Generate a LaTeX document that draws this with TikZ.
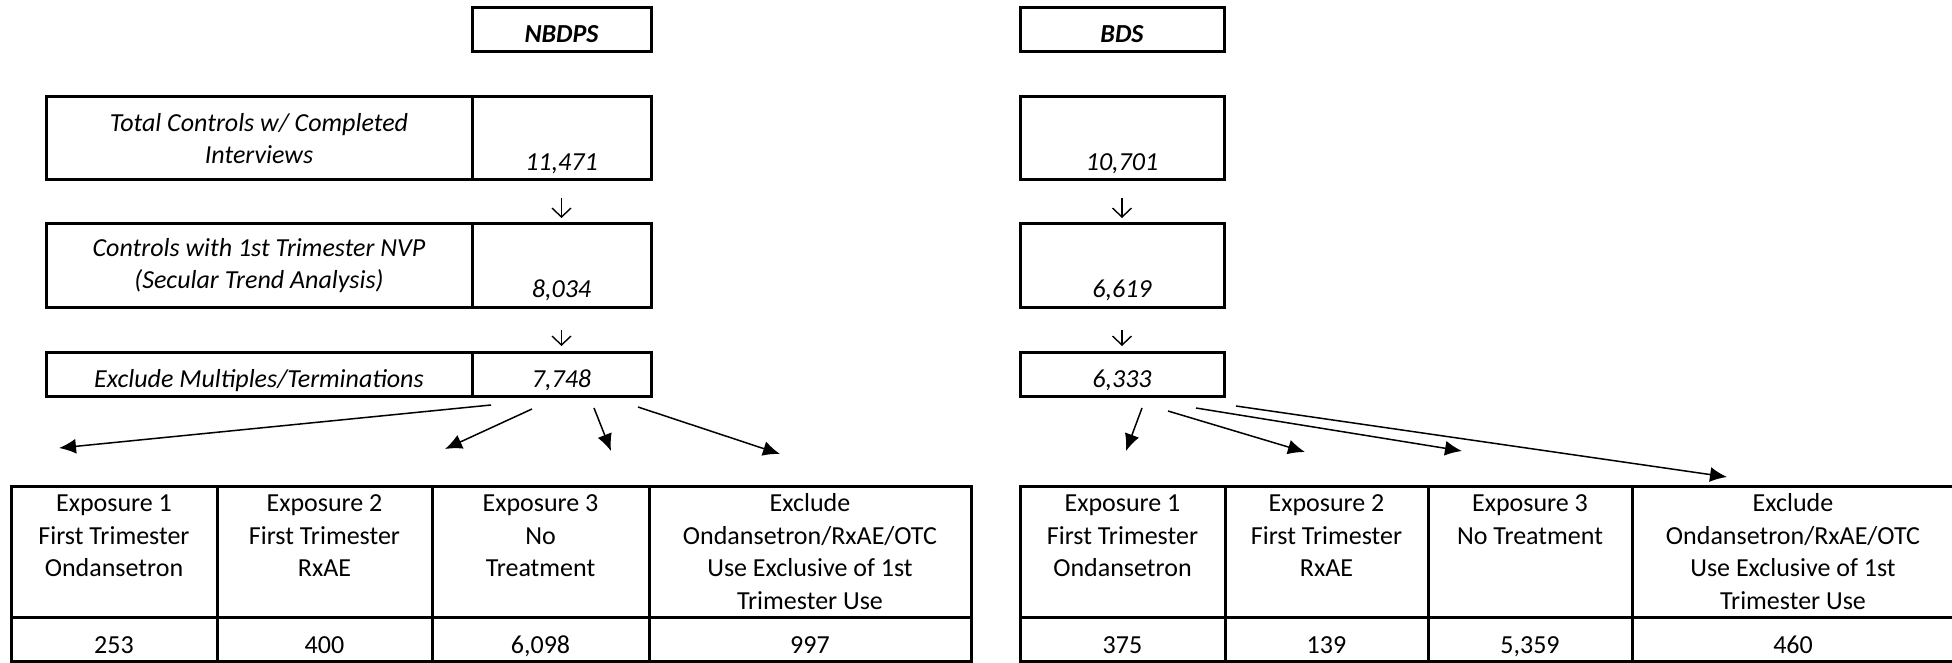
\documentclass[tikz,border=0pt]{standalone}
\usepackage{fontspec}
\setmainfont{Carlito}
\usetikzlibrary{arrows.meta}
\usetikzlibrary{positioning}
\newcommand{\cellfont}{\fontsize{26}{32.5}\selectfont}
\tikzset{%
	>={Latex[width=15pt,length=17pt]},
	% Specifications for style of nodes:
	base/.style = {rectangle, draw=black, line width=3pt,
				   inner sep=0pt, outer sep=0pt, align=center, font=\cellfont},
	title/.style = {base, minimum height=44pt, text height=26pt, text depth=0pt,
					font=\cellfont\bfseries\itshape},
	rowname/.style = {base, minimum width=426pt, font=\cellfont\itshape},
	tallcount/.style = {base, minimum height=83pt, text height=65pt, text depth=0pt,
						font=\cellfont\itshape},
	shortcount/.style = {base, minimum height=44pt, text height=26pt, text depth=0pt,
						 font=\cellfont\itshape},
	colhead/.style = {base, minimum height=131pt},
	colcount/.style = {base, minimum height=44pt, text height=28pt, text depth=0pt},
	headtext/.style = {align=center, inner sep=0pt, font=\cellfont},
	flow/.style = {->, line width=1.5pt},
	stepdown/.style = {-{Straight Barb[length=9pt,width=19pt]}, line width=1.4pt},
}
\begin{document}
\begin{tikzpicture}[x=1pt, y=-1pt]

	\useasboundingbox (0,0) rectangle (1952,663);

	% NBDPS counts

	\node (nbTitle)	[title, minimum width=179pt] at (561.5,30)	{NBDPS};
	\node (nbTotal)	[tallcount, minimum width=179pt, anchor=north] at (561.5,97)	{11,471};
	\node (nbTrend)	[tallcount, minimum width=179pt, below=44pt of nbTotal]	{8,034};
	\node (nbExcl)	[shortcount, minimum width=179pt, below=45pt of nbTrend]	{7,748};
	\node (totalName)	[rowname, minimum height=83pt, left=0pt of nbTotal]	{Total Controls w/ Completed\\Interviews};
	\node (trendName)	[rowname, minimum height=83pt, left=0pt of nbTrend]	{Controls with 1st Trimester NVP\\(Secular Trend Analysis)};
	\node (exclName)	[rowname, minimum height=44pt, text height=26pt, text depth=0pt, left=0pt of nbExcl]	{Exclude Multiples/Terminations};

	% BDS counts

	\node (bdsTitle)	[title, minimum width=204pt] at (1122,30)	{BDS};
	\node (bdsTotal)	[tallcount, minimum width=204pt, anchor=north] at (1122,97)	{10,701};
	\node (bdsTrend)	[tallcount, minimum width=204pt, below=44pt of bdsTotal]	{6,619};
	\node (bdsExcl)	[shortcount, minimum width=204pt, below=45pt of bdsTrend]	{6,333};

	% NBDPS exposure table

	\node (nbHead1)	[colhead, minimum width=206pt, anchor=north west] at (11,486)	{};
	\node (nbHead2)	[colhead, minimum width=215pt, right=0pt of nbHead1]	{};
	\node (nbHead3)	[colhead, minimum width=217pt, right=0pt of nbHead2]	{};
	\node (nbHead4)	[colhead, minimum width=322pt, right=0pt of nbHead3]	{};
	\node (nbText1)	[headtext, below=3pt of nbHead1.north]	{\strut Exposure 1\\First Trimester\\Ondansetron};
	\node (nbText2)	[headtext, below=3pt of nbHead2.north]	{\strut Exposure 2\\First Trimester\\RxAE};
	\node (nbText3)	[headtext, below=3pt of nbHead3.north]	{\strut Exposure 3\\No\\Treatment};
	\node (nbText4)	[headtext, below=3pt of nbHead4.north]	{\strut Exclude\\Ondansetron/RxAE/OTC\\Use Exclusive of 1st\\Trimester Use};
	\node (nbCount1)	[colcount, minimum width=206pt, below=0pt of nbHead1]	{253};
	\node (nbCount2)	[colcount, minimum width=215pt, below=0pt of nbHead2]	{400};
	\node (nbCount3)	[colcount, minimum width=217pt, below=0pt of nbHead3]	{6,098};
	\node (nbCount4)	[colcount, minimum width=322pt, below=0pt of nbHead4]	{997};

	% BDS exposure table

	\node (bdsHead1)	[colhead, minimum width=205pt, anchor=north west] at (1020,486)	{};
	\node (bdsHead2)	[colhead, minimum width=203pt, right=0pt of bdsHead1]	{};
	\node (bdsHead3)	[colhead, minimum width=204pt, right=0pt of bdsHead2]	{};
	\node (bdsHead4)	[colhead, minimum width=322pt, right=0pt of bdsHead3]	{};
	\node (bdsText1)	[headtext, below=3pt of bdsHead1.north]	{\strut Exposure 1\\First Trimester\\Ondansetron};
	\node (bdsText2)	[headtext, below=3pt of bdsHead2.north]	{\strut Exposure 2\\First Trimester\\RxAE};
	\node (bdsText3)	[headtext, below=3pt of bdsHead3.north]	{\strut Exposure 3\\No Treatment};
	\node (bdsText4)	[headtext, below=3pt of bdsHead4.north]	{\strut Exclude\\Ondansetron/RxAE/OTC\\Use Exclusive of 1st\\Trimester Use};
	\node (bdsCount1)	[colcount, minimum width=205pt, below=0pt of bdsHead1]	{375};
	\node (bdsCount2)	[colcount, minimum width=203pt, below=0pt of bdsHead2]	{139};
	\node (bdsCount3)	[colcount, minimum width=204pt, below=0pt of bdsHead3]	{5,359};
	\node (bdsCount4)	[colcount, minimum width=322pt, below=0pt of bdsHead4]	{460};

	% Free ends of the split arrows

	\coordinate (nbFrom1) at (491,405);	\coordinate (nbTo1) at (59,448);
	\coordinate (nbFrom2) at (532,409);	\coordinate (nbTo2) at (445,449);
	\coordinate (nbFrom3) at (594,408);	\coordinate (nbTo3) at (611,451);
	\coordinate (nbFrom4) at (638,407);	\coordinate (nbTo4) at (780,454);
	\coordinate (bdsFrom1) at (1142,408);	\coordinate (bdsTo1) at (1126,451);
	\coordinate (bdsFrom2) at (1168,411);	\coordinate (bdsTo2) at (1305,452);
	\coordinate (bdsFrom3) at (1196,408);	\coordinate (bdsTo3) at (1462,451);
	\coordinate (bdsFrom4) at (1236,406);	\coordinate (bdsTo4) at (1727,477);

	% Lines between the nodes

	\draw[stepdown, shorten <=18pt, shorten >=6pt]	(nbTotal) -- (nbTrend);
	\draw[stepdown, shorten <=23pt, shorten >=6pt]	(nbTrend) -- (nbExcl);
	\draw[stepdown, shorten <=18pt, shorten >=6pt]	(bdsTotal) -- (bdsTrend);
	\draw[stepdown, shorten <=23pt, shorten >=6pt]	(bdsTrend) -- (bdsExcl);

	\draw[flow]	(nbFrom1) -- (nbTo1);
	\draw[flow]	(nbFrom2) -- (nbTo2);
	\draw[flow]	(nbFrom3) -- (nbTo3);
	\draw[flow]	(nbFrom4) -- (nbTo4);
	\draw[flow]	(bdsFrom1) -- (bdsTo1);
	\draw[flow]	(bdsFrom2) -- (bdsTo2);
	\draw[flow]	(bdsFrom3) -- (bdsTo3);
	\draw[flow]	(bdsFrom4) -- (bdsTo4);

\end{tikzpicture}
\end{document}
